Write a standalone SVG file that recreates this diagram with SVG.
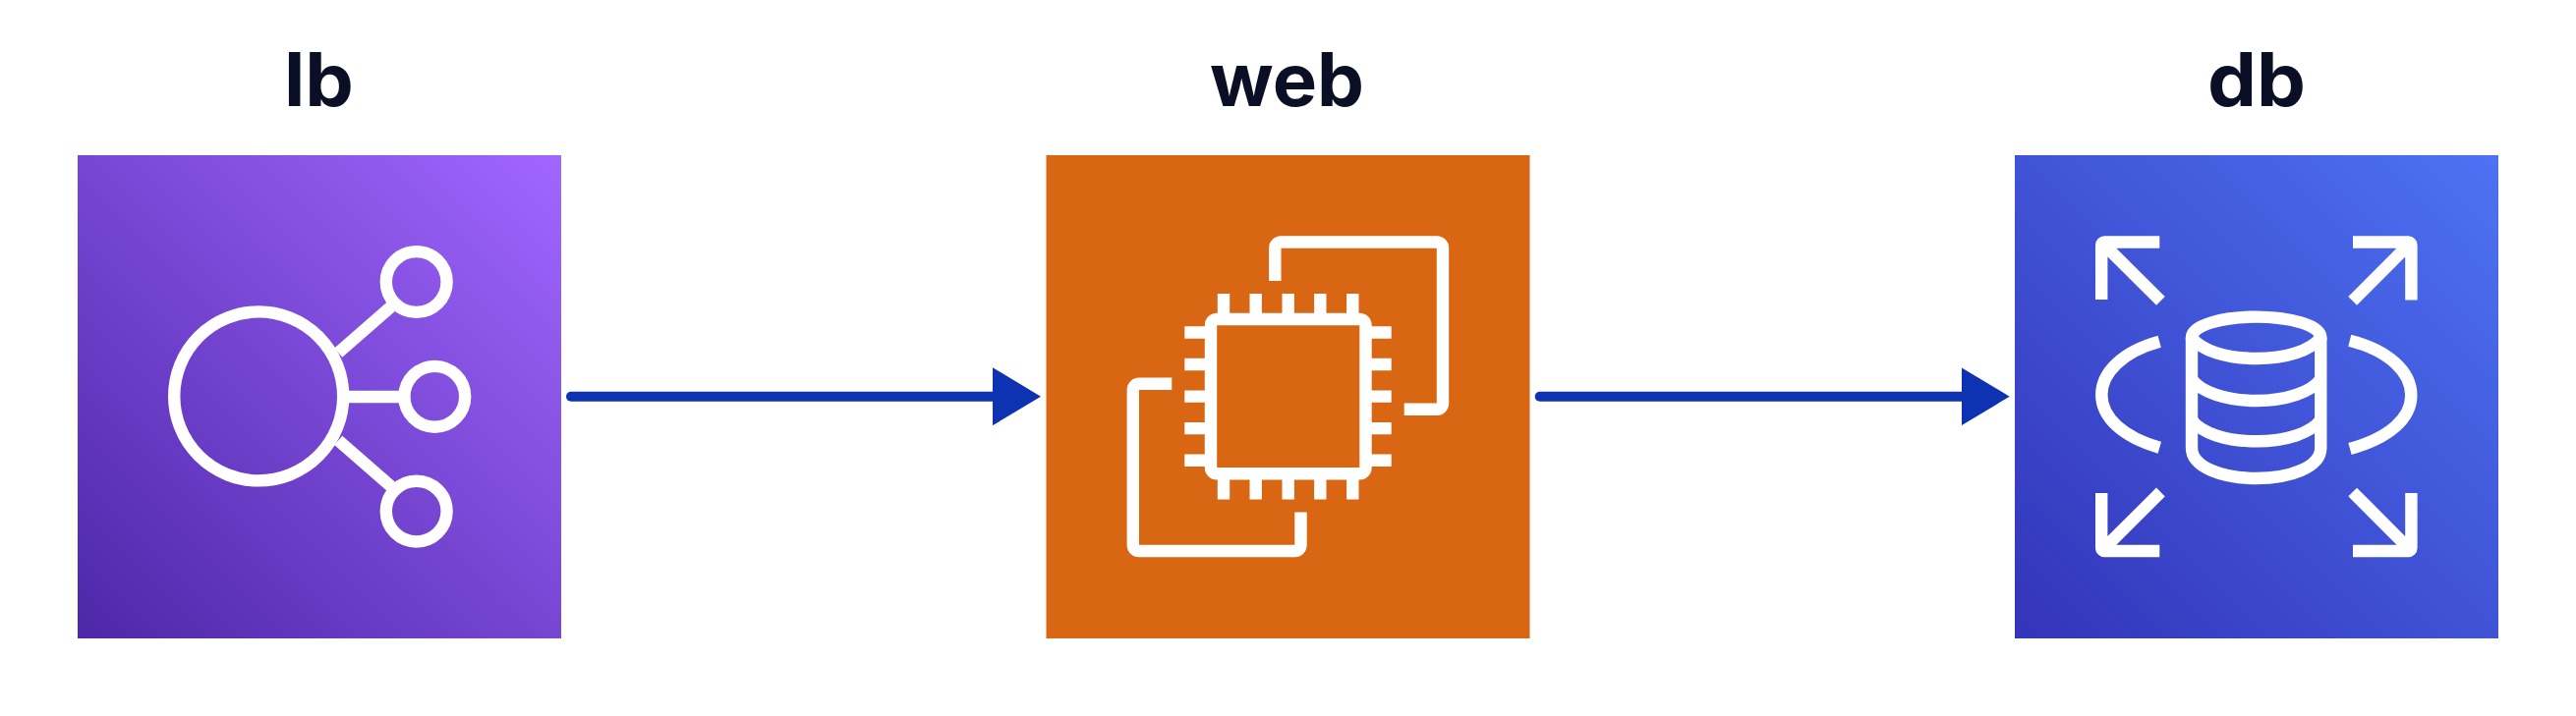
<svg xmlns="http://www.w3.org/2000/svg" width="2621" height="729" viewBox="0 0 2621 729">
<style>
.bg{fill:#fff}
.label{font-family:"Inter","Liberation Sans",sans-serif;font-weight:700;font-size:75px;fill:#0a0f25;text-anchor:middle}
.ic{fill:none;stroke:#fff;stroke-width:12.4;stroke-linejoin:miter}
.conn{fill:none;stroke:#0d32b2;stroke-width:10;stroke-linecap:round}
</style>
<defs>
<linearGradient id="gLb" x1="0" y1="1" x2="1" y2="0"><stop offset="0" stop-color="#4d27a8"/><stop offset="1" stop-color="#a166ff"/></linearGradient>
<linearGradient id="gDb" x1="0" y1="1" x2="1" y2="0"><stop offset="0" stop-color="#3334b9"/><stop offset="1" stop-color="#4d72f3"/></linearGradient>
<marker id="head" markerUnits="userSpaceOnUse" markerWidth="49" markerHeight="59" refX="0" refY="29.5" orient="auto"><polygon points="0,0 49,29.5 0,59" fill="#0d32b2"/></marker>
</defs>
<rect class="bg" width="2621" height="729"/>
<g id="connectors">
<path class="conn" d="M581 403.7H1010" marker-end="url(#head)"/>
<path class="conn" d="M1566.7 403.7H1995.7" marker-end="url(#head)"/>
</g>
<g id="lb">
<text class="label" x="324.5" y="107.7" textLength="71" lengthAdjust="spacingAndGlyphs">lb</text>
<rect x="79" y="158" width="492" height="492" fill="url(#gLb)"/>
<g class="ic" transform="translate(0 1)">
<circle cx="263.2" cy="402.4" r="86"/>
<circle cx="423.7" cy="286" r="30.9"/>
<circle cx="442.3" cy="402.8" r="30.9"/>
<circle cx="423.7" cy="519.6" r="30.9"/>
<path d="M344.2 358.2L397.7 311.4M355 403H406M344.2 447.3L397.7 494.2"/>
</g>
</g>
<g id="web">
<text class="label" x="1309.5" y="107.7" textLength="157" lengthAdjust="spacingAndGlyphs">web</text>
<rect x="1064.5" y="158" width="492" height="492" fill="#d86613"/>
<g class="ic" transform="translate(0 1)">
<rect x="1232" y="324" width="157.5" height="157.3" rx="6"/>
<path d="M1245 298V324M1277.7 298V324M1310.7 298V324M1343.3 298V324M1376.3 298V324M1245 481V507.6M1277.7 481V507.6M1310.7 481V507.6M1343.3 481V507.6M1376.3 481V507.6"/>
<path d="M1205.3 337.5H1232M1205.3 370H1232M1205.3 402.6H1232M1205.3 435.1H1232M1205.3 467.7H1232M1389 337.5H1415.7M1389 370H1415.7M1389 402.6H1415.7M1389 435.1H1415.7M1389 467.7H1415.7"/>
<path d="M1297.3 285V251.5a6 6 0 0 1 6-6H1462a6 6 0 0 1 6 6V409.8a6 6 0 0 1-6 6H1428.7"/>
<path d="M1192.3 389.8H1158.8a6 6 0 0 0-6 6V554a6 6 0 0 0 6 6H1317.5a6 6 0 0 0 6-6V520.6"/>
</g>
</g>
<g id="db">
<text class="label" x="2296" y="107.7" textLength="100" lengthAdjust="spacingAndGlyphs">db</text>
<rect x="2050" y="158" width="492" height="492" fill="url(#gDb)"/>
<g class="ic" transform="translate(0 1)">
<path d="M2197.3 245.5H2141.2a3 3 0 0 0-3 3V304M2138.2 245.5L2198.4 305.3"/>
<path d="M2394 245.5H2450.4a3 3 0 0 1 3 3V304.5M2453.4 245.5L2393.7 305.3"/>
<path d="M2197.3 560H2141.2a3 3 0 0 1-3-3V501M2138.2 560L2198.4 500"/>
<path d="M2394 560H2450.4a3 3 0 0 0 3-3V501M2453.4 560L2393.7 500"/>
<path d="M2197.2 346.8C2160 357 2138.3 378 2138.3 401C2138.3 424 2160 444 2197.3 454.7"/>
<path d="M2390.8 345.8C2431 356 2453.3 378 2453.3 401.5C2453.3 425 2431 445 2391 456"/>
<path d="M2230 342.5C2230 330 2262 321.6 2295.7 321.6S2361.3 330 2361.3 342.5C2352 356 2325 364 2295.7 364S2239 356 2230 342.5Z"/>
<path d="M2230 342.5V455C2230 475 2262 486 2295.7 486S2361.3 475 2361.3 455V342.5"/>
<path d="M2230 385C2239 398 2265 407 2295.7 407S2352 398 2361.3 385"/>
<path d="M2230 426.5C2239 439.5 2265 448.3 2295.7 448.3S2352 439.5 2361.3 426.5"/>
</g>
</g>
</svg>
